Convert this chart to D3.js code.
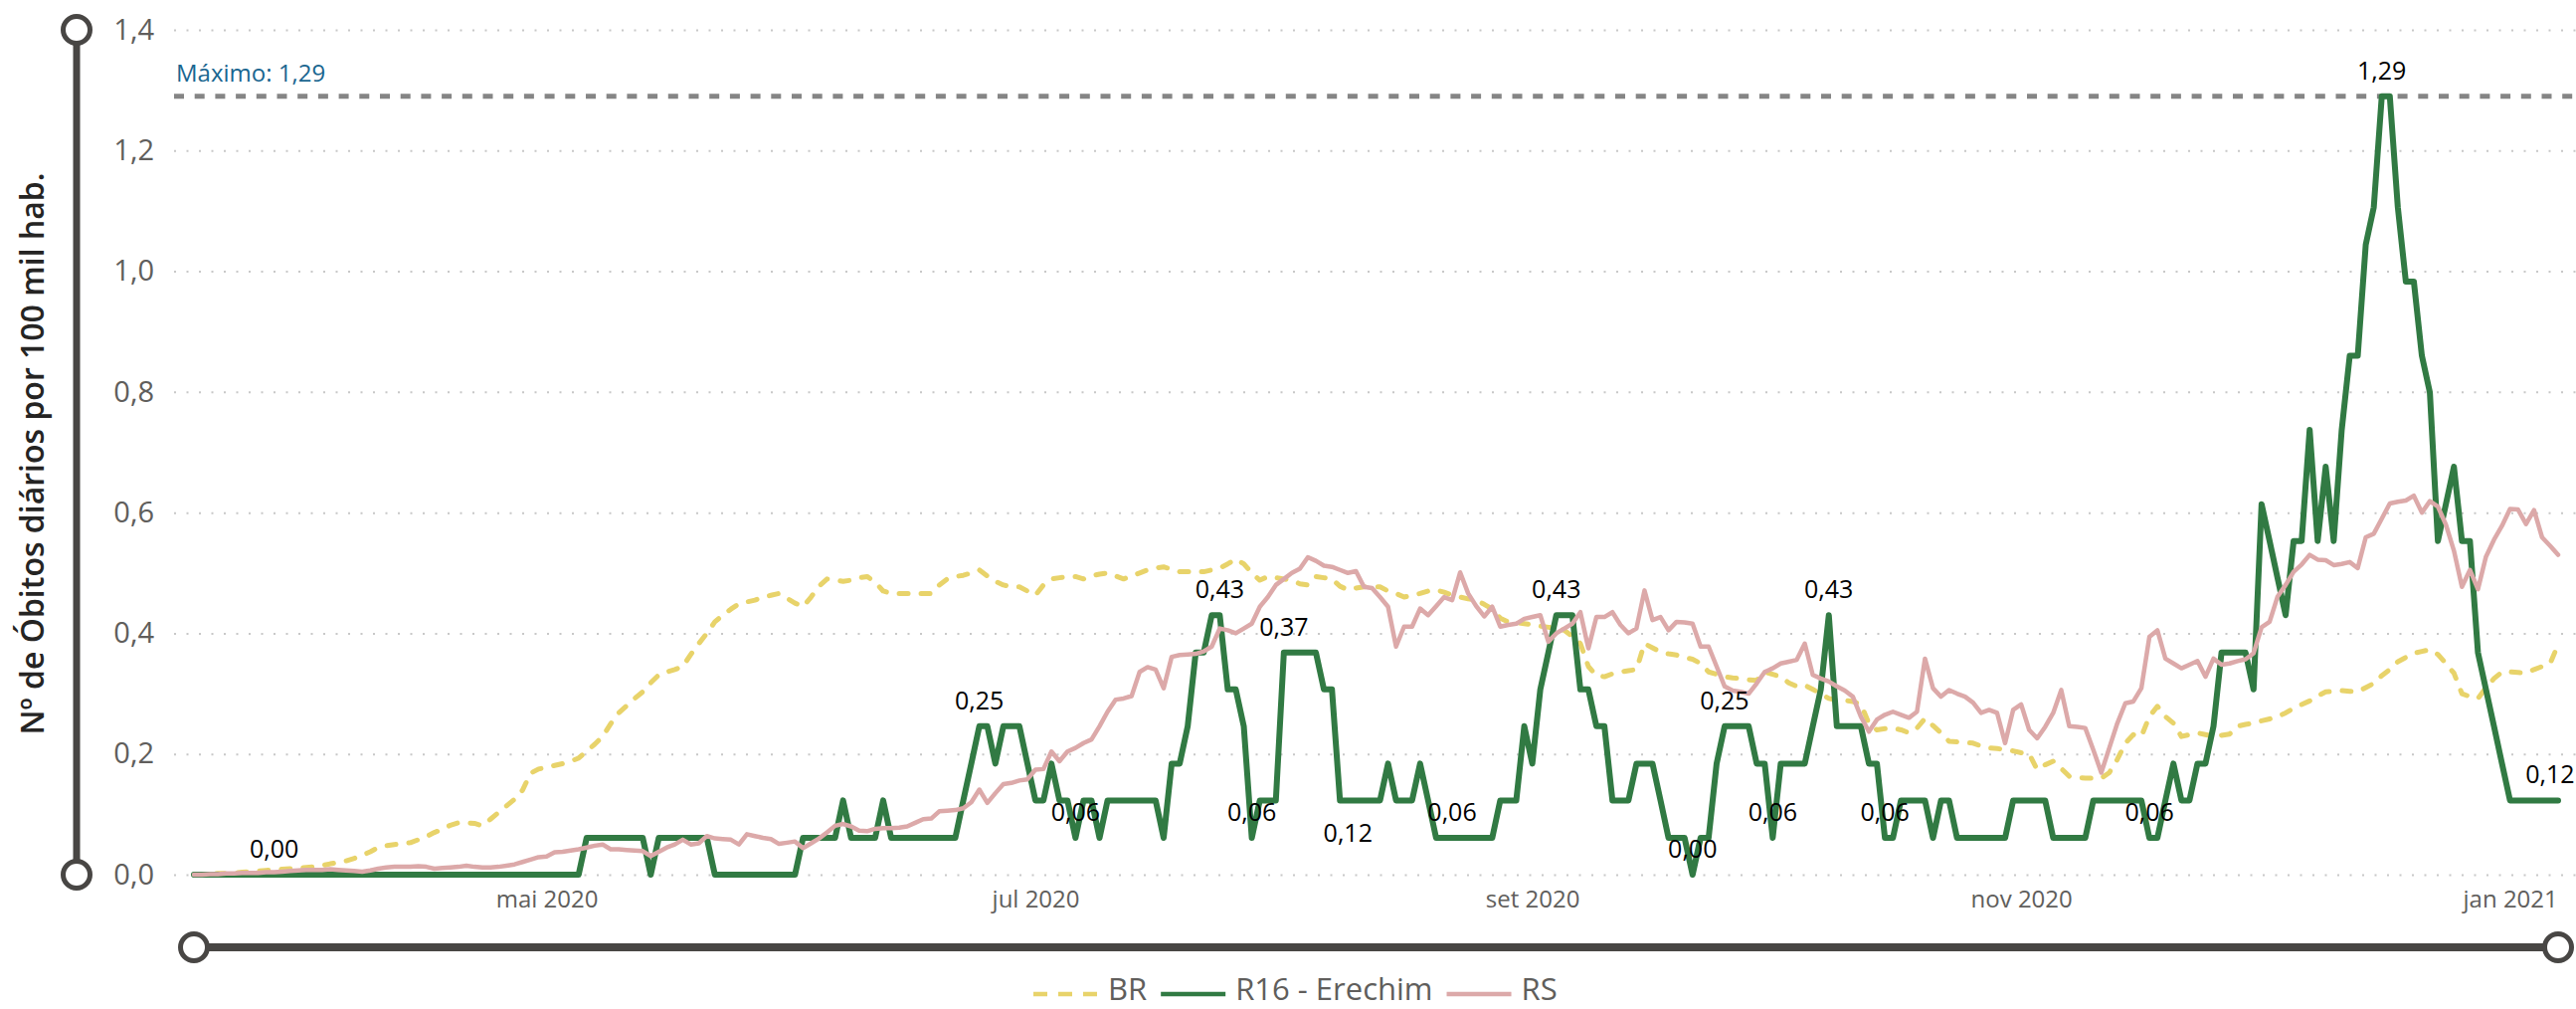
<!DOCTYPE html>
<html><head><meta charset="utf-8">
<script src="https://cdn.jsdelivr.net/npm/d3@7"></script>
<style>
body{margin:0;background:#fff;}
svg{display:block;font-family:"Open Sans",sans-serif;}
</style>
</head><body>
<svg id="c" width="2590" height="1014"></svg>
<script>
// ---------- DATA ----------
const seriesNames = ["BR", "R16 - Erechim", "RS"];
const startDay = "2020-03-18";

const r16 = [
0,0,0,0,0,0,0,0,0,0,
0,0,0,0,0,0,0,0,0,0,
0,0,0,0,0,0,0,0,0,0,
0,0,0,0,0,0,0,0,0,0,
0,0,0,0,0,0,0,0,0,0.061,
0.061,0.061,0.061,0.061,0.061,0.061,0.061,0,0.061,0.061,
0.061,0.061,0.061,0.061,0.061,0,0,0,0,0,
0,0,0,0,0,0,0.061,0.061,0.061,0.061,
0.061,0.123,0.061,0.061,0.061,0.061,0.123,0.061,0.061,0.061,
0.061,0.061,0.061,0.061,0.061,0.061,0.123,0.184,0.246,0.246,
0.184,0.246,0.246,0.246,0.184,0.123,0.123,0.184,0.123,0.123,
0.061,0.123,0.123,0.061,0.123,0.123,0.123,0.123,0.123,0.123,
0.123,0.061,0.184,0.184,0.246,0.368,0.368,0.430,0.430,0.307,
0.307,0.246,0.061,0.123,0.123,0.123,0.368,0.368,0.368,0.368,
0.368,0.307,0.307,0.123,0.123,0.123,0.123,0.123,0.123,0.184,
0.123,0.123,0.123,0.184,0.123,0.061,0.061,0.061,0.061,0.061,
0.061,0.061,0.061,0.123,0.123,0.123,0.246,0.184,0.307,0.368,
0.430,0.430,0.430,0.307,0.307,0.246,0.246,0.123,0.123,0.123,
0.184,0.184,0.184,0.123,0.061,0.061,0.061,0,0.061,0.061,
0.184,0.246,0.246,0.246,0.246,0.184,0.184,0.061,0.184,0.184,
0.184,0.184,0.246,0.307,0.430,0.246,0.246,0.246,0.246,0.184,
0.184,0.061,0.061,0.123,0.123,0.123,0.123,0.061,0.123,0.123,
0.061,0.061,0.061,0.061,0.061,0.061,0.061,0.123,0.123,0.123,
0.123,0.123,0.061,0.061,0.061,0.061,0.061,0.123,0.123,0.123,
0.123,0.123,0.123,0.123,0.061,0.061,0.123,0.184,0.123,0.123,
0.184,0.184,0.246,0.368,0.368,0.368,0.368,0.307,0.614,0.553,
0.491,0.430,0.553,0.553,0.737,0.553,0.676,0.553,0.737,0.860,
0.860,1.044,1.106,1.290,1.290,1.106,0.983,0.983,0.860,0.799,
0.553,0.614,0.676,0.553,0.553,0.368,0.307,0.246,0.184,0.123,
0.123,0.123,0.123,0.123,0.123,0.123
];

const rs = [
0.000,0.000,0.001,0.001,0.002,0.002,0.003,0.003,0.003,0.004,
0.004,0.005,0.006,0.007,0.008,0.008,0.008,0.009,0.008,0.007,
0.006,0.005,0.007,0.010,0.012,0.013,0.013,0.013,0.014,0.013,
0.010,0.011,0.012,0.013,0.015,0.013,0.012,0.012,0.013,0.015,
0.017,0.021,0.025,0.029,0.030,0.037,0.038,0.040,0.042,0.045,
0.048,0.050,0.042,0.042,0.041,0.040,0.039,0.031,0.038,0.045,
0.050,0.058,0.050,0.052,0.064,0.060,0.059,0.058,0.050,0.067,
0.064,0.061,0.059,0.051,0.053,0.055,0.044,0.052,0.060,0.070,
0.081,0.084,0.080,0.073,0.072,0.076,0.077,0.077,0.078,0.080,
0.086,0.092,0.093,0.105,0.106,0.107,0.110,0.120,0.141,0.119,
0.135,0.150,0.152,0.156,0.158,0.174,0.175,0.204,0.188,0.204,
0.210,0.218,0.224,0.246,0.270,0.290,0.292,0.296,0.336,0.344,
0.340,0.309,0.361,0.364,0.365,0.366,0.370,0.378,0.408,0.405,
0.400,0.408,0.416,0.444,0.460,0.480,0.490,0.500,0.507,0.526,
0.520,0.512,0.510,0.505,0.500,0.503,0.477,0.475,0.460,0.444,
0.378,0.411,0.411,0.441,0.430,0.445,0.460,0.455,0.501,0.466,
0.445,0.428,0.444,0.411,0.414,0.416,0.424,0.427,0.430,0.386,
0.400,0.408,0.416,0.435,0.375,0.427,0.427,0.435,0.414,0.400,
0.408,0.471,0.422,0.427,0.405,0.419,0.418,0.416,0.378,0.378,
0.345,0.312,0.305,0.303,0.300,0.317,0.336,0.342,0.350,0.353,
0.356,0.383,0.331,0.325,0.320,0.312,0.305,0.295,0.262,0.237,
0.257,0.265,0.270,0.265,0.260,0.270,0.358,0.309,0.295,0.306,
0.300,0.295,0.285,0.268,0.273,0.268,0.218,0.273,0.282,0.240,
0.226,0.245,0.268,0.306,0.246,0.245,0.243,0.207,0.169,0.210,
0.251,0.284,0.287,0.309,0.394,0.405,0.358,0.350,0.342,0.348,
0.354,0.328,0.358,0.348,0.350,0.354,0.357,0.367,0.410,0.419,
0.461,0.480,0.502,0.514,0.530,0.522,0.521,0.513,0.515,0.518,
0.508,0.559,0.565,0.590,0.615,0.618,0.620,0.628,0.600,0.619,
0.610,0.580,0.537,0.477,0.505,0.473,0.527,0.555,0.578,0.606,
0.605,0.581,0.604,0.559,0.545,0.530
];

const br = [
0.000,0.000,0.001,0.002,0.002,0.003,0.004,0.005,0.006,0.007,
0.008,0.009,0.010,0.011,0.012,0.013,0.015,0.018,0.020,0.023,
0.027,0.032,0.038,0.045,0.048,0.050,0.051,0.053,0.058,0.063,
0.070,0.075,0.082,0.086,0.086,0.085,0.081,0.092,0.103,0.114,
0.125,0.140,0.168,0.175,0.178,0.181,0.184,0.188,0.193,0.205,
0.216,0.229,0.250,0.268,0.280,0.292,0.303,0.318,0.331,0.336,
0.340,0.345,0.365,0.383,0.400,0.419,0.430,0.440,0.449,0.452,
0.455,0.460,0.463,0.466,0.458,0.450,0.444,0.460,0.478,0.490,
0.488,0.486,0.488,0.492,0.494,0.485,0.470,0.466,0.466,0.466,
0.466,0.466,0.466,0.480,0.490,0.494,0.496,0.500,0.505,0.495,
0.486,0.480,0.477,0.477,0.470,0.463,0.480,0.490,0.492,0.494,
0.494,0.490,0.495,0.498,0.500,0.495,0.490,0.495,0.500,0.505,
0.508,0.510,0.506,0.502,0.502,0.502,0.502,0.505,0.508,0.515,
0.523,0.515,0.500,0.488,0.494,0.492,0.490,0.488,0.482,0.480,
0.494,0.492,0.490,0.478,0.472,0.475,0.477,0.477,0.477,0.470,
0.466,0.460,0.463,0.466,0.470,0.472,0.468,0.463,0.460,0.457,
0.455,0.448,0.440,0.425,0.419,0.418,0.416,0.414,0.412,0.410,
0.408,0.405,0.395,0.383,0.345,0.330,0.328,0.333,0.336,0.338,
0.340,0.383,0.376,0.369,0.366,0.364,0.360,0.357,0.350,0.336,
0.332,0.328,0.326,0.325,0.323,0.322,0.336,0.332,0.328,0.318,
0.312,0.314,0.307,0.300,0.292,0.289,0.289,0.287,0.282,0.251,
0.240,0.242,0.243,0.240,0.235,0.243,0.259,0.247,0.235,0.221,
0.220,0.219,0.218,0.213,0.210,0.209,0.207,0.205,0.202,0.200,
0.174,0.182,0.188,0.176,0.163,0.161,0.160,0.160,0.160,0.169,
0.191,0.218,0.232,0.229,0.262,0.279,0.262,0.251,0.229,0.232,
0.235,0.232,0.229,0.231,0.233,0.246,0.249,0.251,0.255,0.258,
0.262,0.268,0.276,0.282,0.288,0.296,0.303,0.304,0.305,0.304,
0.303,0.310,0.317,0.330,0.340,0.353,0.360,0.367,0.370,0.373,
0.365,0.350,0.334,0.300,0.295,0.292,0.310,0.325,0.336,0.336,
0.335,0.334,0.340,0.345,0.350,0.381
];

const yTicks = [0, 0.2, 0.4, 0.6, 0.8, 1.0, 1.2, 1.4];
const yTickLabels = ["0,0","0,2","0,4","0,6","0,8","1,0","1,2","1,4"];
const xTickDays = ["2020-05-01","2020-07-01","2020-09-01","2020-11-01","2021-01-01"];
const xTickLabels = ["mai 2020","jul 2020","set 2020","nov 2020","jan 2021"];

// data labels shown on the R16 series (day index, placement)
const labelDays = [10, 98, 110, 128, 132, 136, 144, 157, 170, 187, 191, 197, 204, 211, 244, 273, 294];
const labelBelow = [144];

const colors = {"BR": "#E8D36A", "R16 - Erechim": "#317A43", "RS": "#DCA9A9"};

// ---------- CHART ----------
const W = 2590, H = 1014;
const svg = d3.select("#c");
const parse = d3.utcParse("%Y-%m-%d");
const start = parse(startDay);
const dates = d3.range(r16.length).map(i => d3.utcDay.offset(start, i));
const fmt2 = v => d3.format(".2f")(v).replace(".", ",");

const x = d3.scaleUtc().domain([dates[0], dates[dates.length - 1]]).range([195, 2572]);
const y = d3.scaleLinear().domain([0, 1.4]).range([879, 30]);

// gridlines + y labels
const gx0 = 175;
const gy = svg.append("g").attr("transform", `translate(${gx0},0)`)
  .call(d3.axisLeft(y).tickValues(yTicks).tickFormat((d, i) => yTickLabels[i])
    .tickSize(-(W - gx0)).tickPadding(20));
gy.select(".domain").remove();
gy.selectAll("line").attr("stroke", "#C8C8C8").attr("stroke-width", 2).attr("stroke-dasharray", "2,10.5");
gy.selectAll("text").attr("font-size", 29).attr("fill", "#605E5C")
  .attr("font-family", "Open Sans, sans-serif");

// x labels
const gxA = svg.append("g").attr("transform", `translate(0,${y(0)})`)
  .call(d3.axisBottom(x).tickValues(xTickDays.map(parse)).tickFormat((d, i) => xTickLabels[i])
    .tickSize(0).tickPadding(16));
gxA.select(".domain").remove();
gxA.selectAll("text").attr("font-size", 24).attr("fill", "#605E5C")
  .attr("font-family", "Open Sans, sans-serif");

// max reference line
const maxVal = d3.max(r16);
svg.append("line").attr("x1", gx0).attr("x2", W).attr("y1", y(maxVal)).attr("y2", y(maxVal))
  .attr("stroke", "#858585").attr("stroke-width", 5).attr("stroke-dasharray", "10,10.7");
svg.append("text").attr("x", gx0 + 2).attr("y", y(maxVal) - 15)
  .attr("font-size", 24).attr("fill", "#1A6690").text("Máximo: " + fmt2(maxVal));

// lines
const line = d3.line().x((d, i) => x(dates[i])).y(d => y(d)).curve(d3.curveLinear);
svg.append("path").datum(br).attr("d", line).attr("fill", "none")
  .attr("stroke", colors["BR"]).attr("stroke-width", 5).attr("stroke-dasharray", "9,13")
  .attr("stroke-linecap", "round").attr("stroke-linejoin", "round");
svg.append("path").datum(r16).attr("d", line).attr("fill", "none")
  .attr("stroke", colors["R16 - Erechim"]).attr("stroke-width", 6)
  .attr("stroke-linejoin", "round").attr("stroke-linecap", "round");
svg.append("path").datum(rs).attr("d", line).attr("fill", "none")
  .attr("stroke", colors["RS"]).attr("stroke-width", 4.5)
  .attr("stroke-linejoin", "round").attr("stroke-linecap", "round");

// data labels
svg.append("g").selectAll("text").data(labelDays).join("text")
  .attr("x", d => x(dates[d]))
  .attr("y", d => labelBelow.includes(d) ? y(r16[d]) + 42 : y(r16[d]) - 17)
  .attr("text-anchor", "middle").attr("font-size", 25).attr("fill", "#000")
  .text(d => fmt2(r16[d]));

// y-axis title
svg.append("text").attr("transform", "translate(44,456) rotate(-90)")
  .attr("text-anchor", "middle").attr("font-size", 32).attr("font-weight", 600)
  .attr("fill", "#252423").text("Nº de Óbitos diários por 100 mil hab.");

// slider decorations
const sl = "#484644";
const sx = 77;
svg.append("line").attr("x1", sx).attr("x2", sx).attr("y1", y(1.4)).attr("y2", y(0))
  .attr("stroke", sl).attr("stroke-width", 7);
[y(1.4), y(0)].forEach(cy => svg.append("circle").attr("cx", sx).attr("cy", cy).attr("r", 13.5)
  .attr("fill", "#fff").attr("stroke", sl).attr("stroke-width", 5));
const hy = 952;
svg.append("line").attr("x1", x(dates[0])).attr("x2", x(dates[dates.length - 1])).attr("y1", hy).attr("y2", hy)
  .attr("stroke", sl).attr("stroke-width", 8);
[x(dates[0]), x(dates[dates.length - 1])].forEach(cx => svg.append("circle").attr("cx", cx).attr("cy", hy).attr("r", 13.5)
  .attr("fill", "#fff").attr("stroke", sl).attr("stroke-width", 5));

// legend
const lg = svg.append("g");
let lx = 1039;
const ly = 999;
seriesNames.forEach(name => {
  const s = lg.append("line").attr("x1", lx).attr("x2", lx + 65).attr("y1", ly).attr("y2", ly)
    .attr("stroke", colors[name]).attr("stroke-width", 4.5);
  if (name === "BR") s.attr("stroke-dasharray", "14,11");
  lx += 75;
  const t = lg.append("text").attr("x", lx).attr("y", ly + 6).attr("font-size", 31)
    .attr("fill", "#605E5C").text(name);
  lx += t.node().getComputedTextLength() + 14;
});
</script>
</body></html>
